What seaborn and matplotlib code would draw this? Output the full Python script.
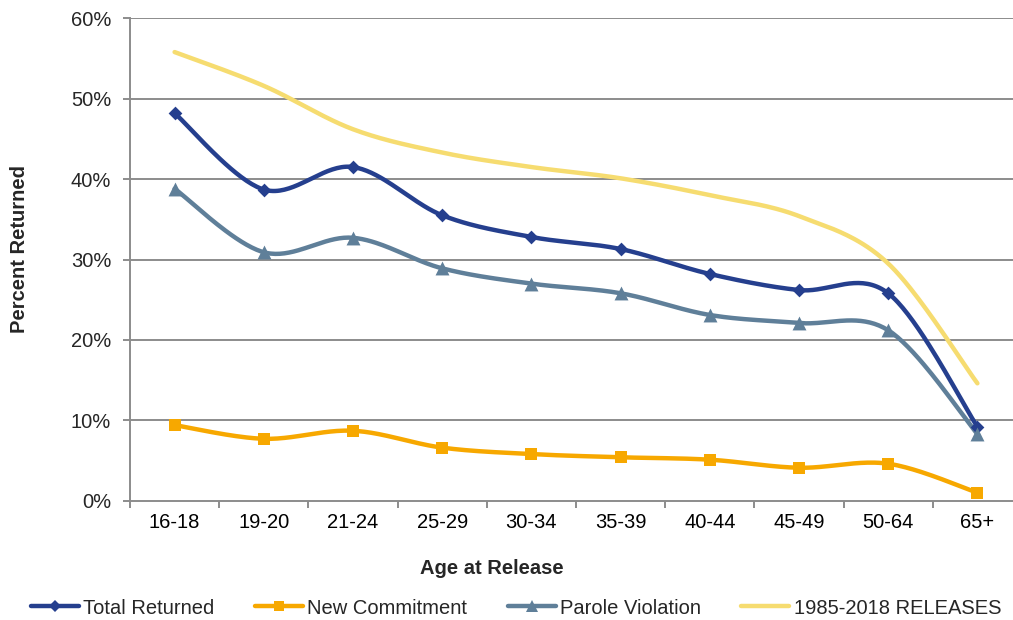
import numpy as np
import pandas as pd
import matplotlib
matplotlib.use("Agg")
import matplotlib.pyplot as plt
from matplotlib.lines import Line2D
from matplotlib.ticker import FixedLocator, FuncFormatter
import seaborn as sns

# Return rates by age group at release (percent)
age_groups = ["16-18", "19-20", "21-24", "25-29", "30-34", "35-39",
              "40-44", "45-49", "50-64", "65+"]
total_returned = [48.2, 38.7, 41.5, 35.5, 32.8, 31.3, 28.2, 26.2, 25.8, 9.2]
new_commitment = [9.4, 7.7, 8.7, 6.6, 5.8, 5.4, 5.1, 4.1, 4.6, 1.0]
parole_violation = [38.8, 30.9, 32.7, 28.9, 27.0, 25.8, 23.1, 22.1, 21.2, 8.3]
releases_1985_2018 = [55.8, 51.6, 46.2, 43.3, 41.5, 40.1, 38.0, 35.4, 29.5, 14.6]

series = [
    ("Total Returned", total_returned, "#253F8E", "D", 7),
    ("New Commitment", new_commitment, "#F7A800", "s", 9),
    ("Parole Violation", parole_violation, "#5F7F99", "^", 10),
    ("1985-2018 RELEASES", releases_1985_2018, "#F6DC70", None, 0),
]

FS = 14.5


def smooth_curve(xs, ys, n=40):
    """Cubic Bezier (Catmull-Rom style) path through the points, as used for smoothed lines."""
    pts = np.column_stack([xs, ys]).astype(float)
    ext = np.vstack([pts[0], pts, pts[-1]])
    out = []
    t = np.linspace(0, 1, n)[:, None]
    for i in range(len(pts) - 1):
        p0, p1, p2, p3 = ext[i], ext[i + 1], ext[i + 2], ext[i + 3]
        b1 = p1 + (p2 - p0) / 6.0
        b2 = p2 - (p3 - p1) / 6.0
        seg = ((1 - t) ** 3) * p1 + 3 * ((1 - t) ** 2) * t * b1 + 3 * (1 - t) * t ** 2 * b2 + t ** 3 * p2
        out.append(seg if i == 0 else seg[1:])
    seg = np.vstack(out)
    return seg[:, 0], seg[:, 1]


sns.set_style("white")
plt.rcParams["font.family"] = ["Liberation Sans", "DejaVu Sans"]

fig = plt.figure(figsize=(10.13, 6.2), dpi=100)
ax = fig.add_axes([130 / 1013, 119.3 / 620, 892 / 1013, 482.4 / 620])

grid_color = "#8C8C8C"
for y in range(10, 61, 10):
    ax.axhline(y, color=grid_color, lw=1.4, zorder=0)

xpos = np.arange(len(age_groups))
handles = []
for name, vals, color, marker, msize in series:
    sx, sy = smooth_curve(xpos, vals)
    curve = pd.DataFrame({"x": sx, "y": sy})
    sns.lineplot(data=curve, x="x", y="y", sort=False, color=color, lw=3.2,
                 ax=ax, zorder=3, solid_capstyle="round")
    if marker:
        pts = pd.DataFrame({"x": xpos, "y": vals})
        sns.scatterplot(data=pts, x="x", y="y", marker=marker, s=msize ** 2,
                        color=color, edgecolor=color, linewidth=0, ax=ax, zorder=4)
    handles.append(Line2D([0], [0], color=color, lw=3.2, marker=marker,
                          markersize=msize * 0.85 if marker else 0,
                          markeredgewidth=0, label=name))

ax.set_xlim(-0.5, len(age_groups) - 0.5)
ax.set_ylim(0, 60)

# Category labels at centers, tick marks at category boundaries
ax.xaxis.set_major_locator(FixedLocator(xpos))
ax.set_xticklabels(age_groups)
ax.xaxis.set_minor_locator(FixedLocator(np.arange(-0.5, len(age_groups), 1.0)))
ax.tick_params(axis="x", which="major", length=0, pad=9, labelsize=FS, colors="#000000")
ax.tick_params(axis="x", which="minor", length=5, width=1.4, color=grid_color, direction="out", bottom=True)

ax.yaxis.set_major_locator(FixedLocator(range(0, 61, 10)))
ax.yaxis.set_major_formatter(FuncFormatter(lambda v, _: f"{int(v)}%"))
ax.tick_params(axis="y", length=5, width=1.4, color=grid_color, direction="out",
               pad=8.5, labelsize=FS, left=True)

for side in ["top", "right"]:
    ax.spines[side].set_visible(False)
for side in ["left", "bottom"]:
    ax.spines[side].set_color(grid_color)
    ax.spines[side].set_linewidth(1.4)

ax.set_xlabel("Age at Release", fontsize=FS, fontweight="bold")
ax.set_ylabel("Percent Returned", fontsize=FS, fontweight="bold")
ax.xaxis.set_label_coords((492 - 130) / 892, (500.7 - 559) / 482.4)
ax.yaxis.set_label_coords((29 - 130) / 892, (500.7 - 249) / 482.4)

fig.legend(handles=handles, loc="center", bbox_to_anchor=(516 / 1013, 1 - 608 / 620),
           ncol=4, frameon=False, fontsize=FS, handlelength=2.4,
           handletextpad=0.2, columnspacing=2.0, borderpad=0)

fig.savefig("out.png", dpi=100)
